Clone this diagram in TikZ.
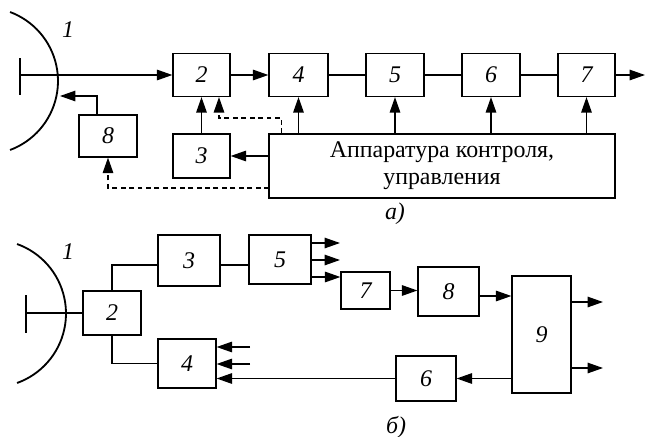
\documentclass[tikz,border=0pt]{standalone}
\usepackage{fontspec}
\setmainfont{Liberation Serif}
\usetikzlibrary{arrows.meta}

\tikzset{
  blk/.style={draw, inner sep=0pt, font=\fontsize{17}{19}\selectfont\itshape},
  sz/.style 2 args={minimum width=#1*0.025cm, minimum height=#2*0.025cm},
  arr/.style={-{Triangle[length=11pt,width=7.5pt]}},
  dsh/.style={dash pattern=on 3.5pt off 2.5pt},
  lbl/.style={font=\fontsize{17}{19}\selectfont\itshape},
}

\begin{document}
\begin{tikzpicture}[x=0.025cm,y=-0.025cm,line width=0.9pt]
  \useasboundingbox (0,0) rectangle (647,436);

  % a)
  \draw[line width=1.3pt] plot[domain=-69.6:69.6,samples=40]
    ({-15.6+73.6*cos(\x)},{81+73.6*sin(\x)});
  \draw (20,58) -- (20,95);
  \coordinate (afeed) at (20,75);
  \node[lbl] (a1) at (68,30) {1};

  \node[blk,sz={57}{43}] (a2) at (201.5,75) {2};
  \node[blk,sz={59}{43}] (a4) at (298.5,75) {4};
  \node[blk,sz={58}{43}] (a5) at (395,75) {5};
  \node[blk,sz={58}{43}] (a6) at (491,75) {6};
  \node[blk,sz={57}{43}] (a7) at (586.5,75) {7};
  \node[blk,sz={58}{42}] (a8) at (108,136) {8};
  \node[blk,sz={57}{44}] (a3) at (201.5,156) {3};
  \node[draw,sz={346}{64},align=center,font=\fontsize{17}{19}\selectfont]
    (ctrl) at (442,166) {Аппаратура контроля,\\управления};
  \coordinate (aout) at (645,75);
  \coordinate (arcpt) at (60,96);
  \coordinate (dk) at (219,118);
  \coordinate (dl) at (269,188);

  \draw[arr] (afeed) -- (a2);
  \draw[arr] (a2) -- (a4);
  \draw (a4) -- (a5);
  \draw (a5) -- (a6);
  \draw (a6) -- (a7);
  \draw[arr] (a7) -- (aout);
  \draw[arr] ([shift={(-11,0)}]a8.north) |- (arcpt);
  \draw[arr] (a3) -- (a2);
  \draw[arr] (ctrl.west |- a3) -- (a3);
  \foreach \b in {a4,a5,a6,a7}
    \draw[arr] (ctrl.north -| \b) -- (\b);
  \draw[arr,dsh] ([shift={(13,0)}]ctrl.north west) |- (dk) -- (dk |- a2.south);
  \draw[arr,dsh] (dl) -| (a8.south);
  \node[lbl] (la) at (395,214) {а)};

  % б)
  \draw[line width=1.3pt] plot[domain=-70.3:70.3,samples=40]
    ({-7.8+73.8*cos(\x)},{313.5+73.8*sin(\x)});
  \draw (26,295) -- (26,333);
  \coordinate (bfeed) at (26,313);
  \node[lbl] (b1) at (68,252) {1};

  \node[blk,sz={58}{44}] (b2) at (112,313) {2};
  \node[blk,sz={62}{51}] (b3) at (189,260.5) {3};
  \node[blk,sz={62}{49}] (b5) at (280,259.5) {5};
  \node[blk,sz={58}{49}] (b4) at (187,363.5) {4};
  \node[blk,sz={49}{37}] (b7) at (365.5,290.5) {7};
  \node[blk,sz={61}{49}] (b8) at (448.5,291.5) {8};
  \node[blk,sz={59}{117}] (b9) at (541.5,334.5) {9};
  \node[blk,sz={60}{45}] (b6) at (426,378.5) {6};

  \draw (bfeed) -- (b2);
  \draw (b2.north) |- ([shift={(0,4.5)}]b3.west);
  \draw ([shift={(0,4.5)}]b3.east) -- ([shift={(0,4.5)}]b3.east -| b5.west);
  \draw (b2.south) |- (b4.west);
  \foreach \y in {243,260}
    \draw[arr] (b5.east |- 0,\y) -- (340,\y);
  \draw[arr] (b5.east |- 0,277) -- (b7.west |- 0,277);
  \draw[arr] (b7.east) -- (b7.east -| b8.west);
  \draw[arr] ([shift={(0,4.5)}]b8.east) -- ([shift={(0,4.5)}]b8.east -| b9.west);
  \foreach \y in {302,368}
    \draw[arr] (b9.east |- 0,\y) -- (603,\y);
  \draw[arr] (b9.west |- b6) -- (b6.east);
  \draw[arr] (b6.west) -- (b6.west -| b4.east);
  \foreach \y in {347,364}
    \draw[arr] (250,\y) -- (b4.east |- 0,\y);
  \node[lbl] (lb) at (396,427) {б)};
\end{tikzpicture}
\end{document}
